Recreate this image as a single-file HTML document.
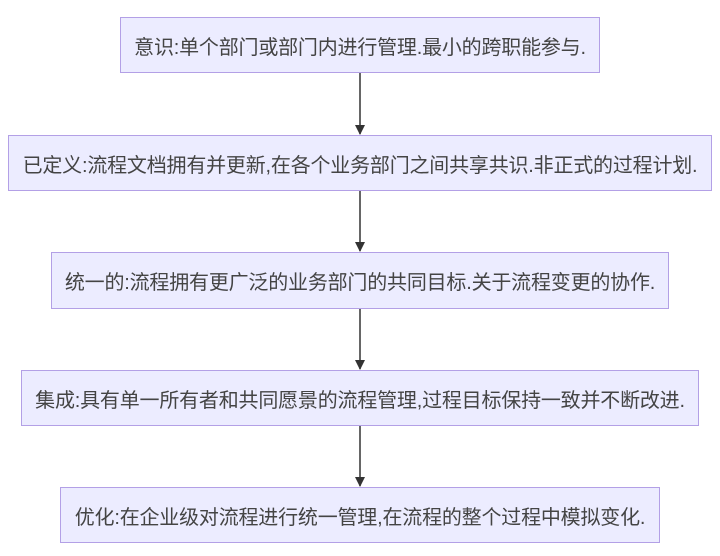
<!DOCTYPE html>
<html><head><meta charset="utf-8"><style>
body{margin:0;width:720px;height:556px;background:#fff;position:relative;font-family:"Liberation Sans","Noto Sans CJK SC",sans-serif;overflow:hidden}
.b{position:absolute;box-sizing:border-box;background:#ececff;border:1.5px solid #b3a0e6;display:flex;align-items:center;justify-content:center;font-size:20px;color:#444;white-space:nowrap;letter-spacing:-0.2px}
svg{position:absolute;left:0;top:0}
</style></head><body>
<svg width="720" height="556">
<defs><marker id="a" markerWidth="10" markerHeight="10" refX="9" refY="5" orient="auto" markerUnits="userSpaceOnUse"><path d="M0,0 L10,5 L0,10 z" fill="#333"/></marker></defs>
<g stroke="#333" stroke-width="1.5" marker-end="url(#a)">
<line x1="360" y1="73" x2="360" y2="134"/>
<line x1="360" y1="191" x2="360" y2="251"/>
<line x1="360" y1="309" x2="360" y2="369"/>
<line x1="360" y1="426" x2="360" y2="486"/>
</g></svg>
<div class="b" style="left:120px;top:17px;width:480px;height:56px">意识:单个部门或部门内进行管理.最小的跨职能参与.</div>
<div class="b" style="left:8px;top:135px;width:704px;height:56px">已定义:流程文档拥有并更新,在各个业务部门之间共享共识.非正式的过程计划.</div>
<div class="b" style="left:51px;top:252px;width:618px;height:57px">统一的:流程拥有更广泛的业务部门的共同目标.关于流程变更的协作.</div>
<div class="b" style="left:21px;top:370px;width:678px;height:56px">集成:具有单一所有者和共同愿景的流程管理,过程目标保持一致并不断改进.</div>
<div class="b" style="left:60px;top:487px;width:600px;height:56px">优化:在企业级对流程进行统一管理,在流程的整个过程中模拟变化.</div>
</body></html>
